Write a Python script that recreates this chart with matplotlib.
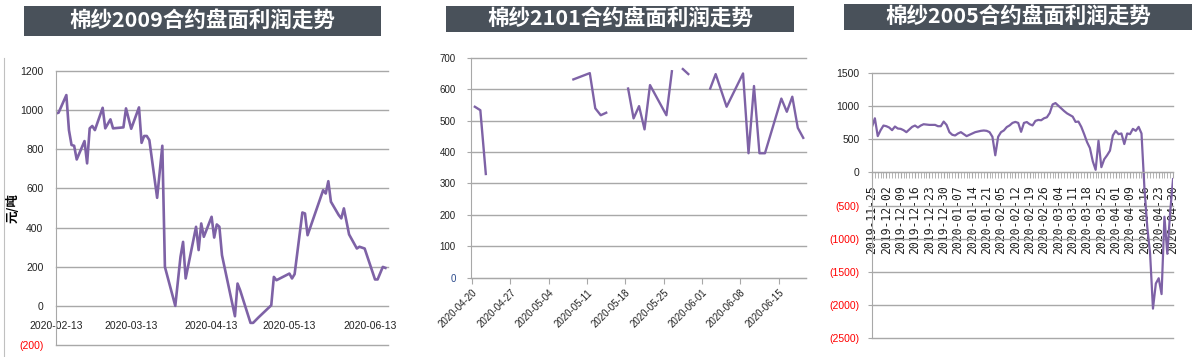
import numpy as np
import pandas as pd
import matplotlib
matplotlib.use("Agg")
import matplotlib.pyplot as plt
from matplotlib.patches import Rectangle
from matplotlib.lines import Line2D

plt.rcParams['font.family'] = ['Liberation Sans', 'Noto Sans CJK SC', 'DejaVu Sans']

# COLORES
MORADO = '#7e62a6'
GRIS = '#a8a8a8'
TITULO_BG = '#49515a'
TEXTO = '#222222'

# DATOS 2009
fechas_2009 = ['02-13', '02-14', '02-17', '02-18', '02-19', '02-20', '02-21', '02-24', '02-25', '02-26',
               '02-27', '02-28', '03-02', '03-03', '03-05', '03-06', '03-10', '03-11', '03-13', '03-16',
               '03-17', '03-18', '03-19', '03-20', '03-23', '03-25', '03-26', '03-30', '04-01', '04-02',
               '04-03', '04-07', '04-08', '04-09', '04-10', '04-13', '04-14', '04-15', '04-16', '04-17',
               '04-22', '04-23', '04-24', '04-28', '04-29', '05-01', '05-06', '05-07', '05-08', '05-13',
               '05-14', '05-15', '05-18', '05-19', '05-20', '05-26', '05-27', '05-28', '05-29', '06-01',
               '06-02', '06-03', '06-05', '06-08', '06-09', '06-11', '06-15', '06-16', '06-18', '06-19']
valores_2009 = [983, 987, 1077, 898, 822, 818, 748, 842, 728, 907,
                919, 898, 1012, 907, 953, 907, 912, 1009, 905, 1014,
                833, 868, 868, 847, 552, 818, 199, 0, 250, 327,
                140, 404, 285, 421, 353, 455, 349, 416, 404, 259,
                -53, 114, 80, -87, -87, -60, 3, 148, 131, 165,
                140, 162, 477, 472, 361, 591, 574, 637, 532, 464,
                447, 498, 365, 293, 302, 293, 135, 135, 199, 194]
ticks_2009 = ['2020-02-13', '2020-03-13', '2020-04-13', '2020-05-13', '2020-06-13']

# DATOS 2101 (nan = hueco en la linea)
fechas_2101 = ['04-20', '04-21', '04-22', '04-23', '05-08', '05-11', '05-12', '05-13', '05-14', '05-15',
               '05-18', '05-19', '05-20', '05-21', '05-22', '05-25', '05-26', '05-27', '05-28', '05-29',
               '06-01', '06-02', '06-03', '06-05', '06-08', '06-09', '06-10', '06-11', '06-12', '06-15',
               '06-16', '06-17', '06-18', '06-19']
valores_2101 = [544, 533, 330, np.nan, 631, 651, 539, 517, 525, np.nan,
                602, 507, 546, 472, 613, 517, 657, np.nan, 664, 648,
                np.nan, 602, 648, 544, 650, 396, 610, 396, 396, 570,
                528, 576, 477, 445]
ticks_2101 = ['2020-04-20', '2020-04-27', '2020-05-04', '2020-05-11', '2020-05-18',
              '2020-05-25', '2020-06-01', '2020-06-08', '2020-06-15']

# DATOS 2005 (un valor por dia habil)
valores_2005 = [690, 820, 550, 640, 710, 700, 680, 640, 695, 665,
                660, 640, 610, 650, 690, 710, 680, 710, 730, 725,
                720, 720, 720, 700, 700, 770, 720, 610, 570, 560,
                590, 610, 580, 550, 570, 590, 610, 620, 630, 635,
                630, 610, 540, 260, 540, 610, 636, 687, 712, 750,
                765, 750, 615, 750, 763, 730, 712, 780, 795, 790,
                820, 835, 900, 1030, 1050, 1010, 970, 930, 895, 870,
                845, 765, 770, 690, 580, 460, 370, 170, 40, 480,
                80, 200, 260, 330, 560, 630, 580, 590, 430, 590,
                580, 660, 630, 690, 590, -220, -820, -1230, -2060, -1680,
                -1600, -1840, -670, -1230, -600, -100]
etiquetas_2005 = ['2019-11-25', '2019-12-02', '2019-12-09', '2019-12-16', '2019-12-23', '2019-12-30',
                  '2020-01-07', '2020-01-14', '2020-01-21', '2020-02-05', '2020-02-12', '2020-02-19',
                  '2020-02-26', '2020-03-04', '2020-03-11', '2020-03-18', '2020-03-25', '2020-04-01',
                  '2020-04-09', '2020-04-16', '2020-04-23', '2020-04-30']

titulos = ['棉纱2009合约盘面利润走势', '棉纱2101合约盘面利润走势', '棉纱2005合约盘面利润走势']


def fmt_num(v):
    return f"({abs(v)})" if v < 0 else str(v)


fig = plt.figure(figsize=(11.96, 3.57), dpi=100)

# TITULOS
cajas = [(0.0201, 0.899, 0.2985, 0.084), (0.3729, 0.910, 0.291, 0.0728), (0.7057, 0.916, 0.291, 0.0728)]
for (x0, y0, w, h), t in zip(cajas, titulos):
    fig.add_artist(Rectangle((x0, y0), w, h, transform=fig.transFigure, color=TITULO_BG, lw=0))
    fig.text(x0 + w / 2, y0 + h / 2, t, color='white', fontsize=15.5, fontweight='heavy',
             ha='center', va='center', family=['Noto Sans CJK SC', 'DejaVu Sans'])

# GRAFICA 1
ax1 = fig.add_axes([0.0468, 0.0336, 0.2776, 0.7675])
# el eje x cruza en 0 (antes de tocar etiquetas, set_position reinicia los ticks)
ax1.spines['bottom'].set_position(('data', 0))
x1 = pd.to_datetime(['2020-' + f for f in fechas_2009])
ax1.plot(x1, valores_2009, color=MORADO, lw=1.9)
ax1.set_ylim(-200, 1200)
ax1.set_xlim(pd.Timestamp('2020-02-13'), pd.Timestamp('2020-06-20'))
ax1.tick_params(axis='x', length=0, pad=11, labelsize=7.5, labelcolor=TEXTO)
ax1.tick_params(axis='y', length=0, pad=9, labelsize=7.5, labelcolor=TEXTO)
yt = list(range(-200, 1201, 200))
ax1.set_yticks(yt)
ax1.set_yticklabels([fmt_num(v) for v in yt])
ax1.get_yticklabels()[0].set_color('red')
ax1.set_xticks(pd.to_datetime(ticks_2009))
ax1.set_xticklabels(ticks_2009)
ax1.grid(axis='y', color=GRIS, lw=1)
for l in ax1.get_ygridlines():
    l.set_clip_on(False)
ax1.set_axisbelow(True)
for s in ['top', 'right', 'bottom']:
    ax1.spines[s].set_visible(False)
ax1.spines['left'].set_color(GRIS)
fig.text(0.011, (357 - 208) / 357, '元/吨', rotation=90, fontsize=9, fontweight='bold',
         ha='center', va='center', family=['Noto Sans CJK SC', 'DejaVu Sans'])
fig.add_artist(Line2D([4 / 1196, 4 / 1196], [0, (357 - 58) / 357], color='#c0c0c0', lw=0.8))

# GRAFICA 2
ax2 = fig.add_axes([0.3938, 0.2221, 0.2801, 0.6162])
x2 = pd.to_datetime(['2020-' + f for f in fechas_2101]) + pd.Timedelta(hours=12)
ax2.plot(x2, valores_2101, color=MORADO, lw=1.7)
ax2.set_ylim(0, 700)
ax2.set_xlim(pd.Timestamp('2020-04-19 19:00'), pd.Timestamp('2020-06-20'))
ax2.tick_params(axis='x', length=4, color=GRIS, pad=3, labelsize=7, labelcolor=TEXTO)
ax2.tick_params(axis='y', length=3, color=GRIS, pad=8, labelsize=7, labelcolor=TEXTO)
ax2.set_yticks(range(0, 701, 100))
ax2.set_xticks(pd.to_datetime(ticks_2101))
ax2.set_xticklabels(ticks_2101, rotation=45, ha='right', rotation_mode='anchor')
ax2.get_yticklabels()[0].set_color('#2b4a8b')
ax2.grid(axis='y', color=GRIS, lw=1)
for l in ax2.get_ygridlines():
    l.set_clip_on(False)
ax2.set_axisbelow(True)
for s in ['top', 'right']:
    ax2.spines[s].set_visible(False)
for s in ['left', 'bottom']:
    ax2.spines[s].set_color(GRIS)

# GRAFICA 3
ax3 = fig.add_axes([0.7291, 0.054, 0.2517, 0.7406])
ax3.spines['bottom'].set_position(('data', 0))
x3 = np.arange(len(valores_2005))
ax3.plot(x3, valores_2005, color=MORADO, lw=1.6)
ax3.set_ylim(-2500, 1500)
ax3.set_xlim(0, len(valores_2005) - 1)
ax3.tick_params(axis='x', which='both', length=4, color=GRIS, pad=5)
ax3.tick_params(axis='y', length=3, color=GRIS, pad=6, labelsize=7.5)
yt3 = list(range(-2500, 1501, 500))
ax3.set_yticks(yt3)
ax3.set_yticklabels([fmt_num(v) for v in yt3])
for lab, v in zip(ax3.get_yticklabels(), yt3):
    lab.set_color('red' if v < 0 else TEXTO)
ax3.set_xticks(np.arange(0, len(valores_2005), 5))
ax3.set_xticks(x3, minor=True)
ax3.set_xticklabels(etiquetas_2005, rotation=90, family='DejaVu Sans Mono', fontsize=8.3,
                    color=TEXTO, va='top', ha='center')
ax3.grid(axis='y', color=GRIS, lw=1)
for l in ax3.get_ygridlines():
    l.set_clip_on(False)
ax3.set_axisbelow(True)
for s in ['top', 'right']:
    ax3.spines[s].set_visible(False)
for s in ['left', 'bottom']:
    ax3.spines[s].set_color(GRIS)

fig.savefig('out.png', dpi=100)
